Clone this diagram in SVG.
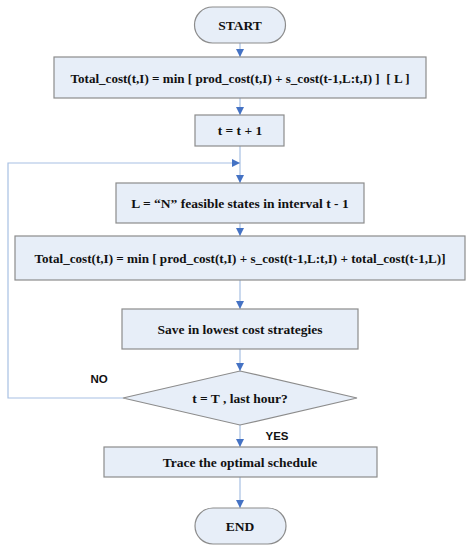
<svg xmlns="http://www.w3.org/2000/svg" width="472" height="550" viewBox="0 0 472 550">
<style>
.box{fill:#e7eef8;stroke:#8c8c8c;stroke-width:1.2}
.t{font-family:"Liberation Serif","Times New Roman",serif;font-weight:bold;font-size:13.5px;fill:#111;text-anchor:middle;dominant-baseline:central}
.lbl{font-family:"Liberation Sans",Arial,sans-serif;font-weight:bold;font-size:11.5px;fill:#111;text-anchor:middle;dominant-baseline:central}
.ln{fill:none;stroke:#a7c0e3;stroke-width:1.2}
</style>
<defs>
<marker id="ah" viewBox="0 0 8 8" refX="8" refY="4" markerWidth="8" markerHeight="8" markerUnits="userSpaceOnUse" orient="auto">
<path d="M0,0 L8,4 L0,8 z" fill="#4472c4"/>
</marker>
</defs>
<rect width="472" height="550" fill="#fff"/>
<g id="connectors">
<line class="ln" x1="240" y1="43" x2="240" y2="57" marker-end="url(#ah)"/>
<line class="ln" x1="240" y1="98" x2="240" y2="115" marker-end="url(#ah)"/>
<line class="ln" x1="240" y1="146" x2="240" y2="183" marker-end="url(#ah)"/>
<polyline class="ln" points="123,398 8,398 8,163 240,163" marker-end="url(#ah)"/>
<line class="ln" x1="240" y1="223" x2="240" y2="236" marker-end="url(#ah)"/>
<line class="ln" x1="240" y1="280" x2="240" y2="309" marker-end="url(#ah)"/>
<line class="ln" x1="240" y1="349" x2="240" y2="371" marker-end="url(#ah)"/>
<line class="ln" x1="240" y1="425" x2="240" y2="447" marker-end="url(#ah)"/>
<line class="ln" x1="240" y1="477" x2="240" y2="508" marker-end="url(#ah)"/>
<text class="lbl" x="99" y="379">NO</text>
<text class="lbl" x="277" y="436">YES</text>
</g>
<g id="start">
<rect class="box" x="194.5" y="7" width="91" height="36" rx="18"/>
<text class="t" x="240" y="25">START</text>
</g>
<g id="init">
<rect class="box" x="54" y="57" width="372" height="41"/>
<text class="t" x="240" y="78" textLength="339" lengthAdjust="spacingAndGlyphs" xml:space="preserve">Total_cost(t,I) = min [ prod_cost(t,I) + s_cost(t-1,L:t,I) ]  [ L ]</text>
</g>
<g id="incr">
<rect class="box" x="195" y="115" width="89" height="31"/>
<text class="t" x="240" y="130.5">t = t + 1</text>
</g>
<g id="states">
<rect class="box" x="116" y="183" width="248" height="40"/>
<text class="t" x="240" y="203">L = “N” feasible states in interval t - 1</text>
</g>
<g id="total">
<rect class="box" x="15" y="236" width="450" height="44"/>
<text class="t" x="240" y="258" textLength="411" lengthAdjust="spacingAndGlyphs">Total_cost(t,I) = min [ prod_cost(t,I) + s_cost(t-1,L:t,I) + total_cost(t-1,L)]</text>
</g>
<g id="save">
<rect class="box" x="122" y="309" width="236" height="40"/>
<text class="t" x="240" y="329">Save in lowest cost strategies</text>
</g>
<g id="decision">
<polygon class="box" points="240,371 357,398 240,425 123,398"/>
<text class="t" x="240" y="398">t = T , last hour?</text>
</g>
<g id="trace">
<rect class="box" x="104" y="447" width="273" height="30"/>
<text class="t" x="240" y="462">Trace the optimal schedule</text>
</g>
<g id="end">
<rect class="box" x="195" y="508" width="91" height="36" rx="18"/>
<text class="t" x="240" y="526">END</text>
</g>
</svg>
